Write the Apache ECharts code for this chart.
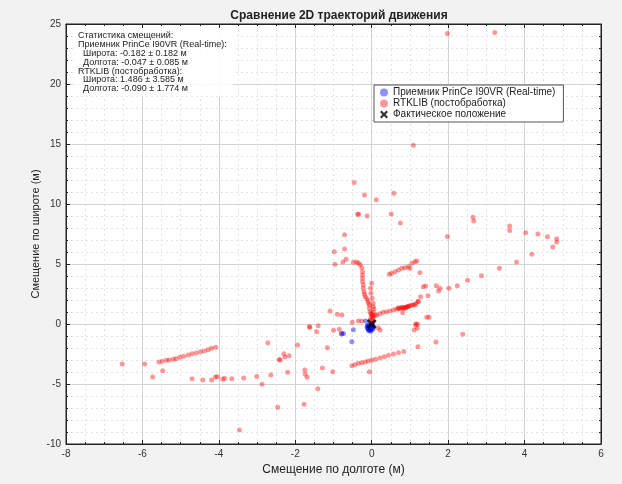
<!DOCTYPE html>
<html>
<head>
<meta charset="utf-8">
<script src="https://cdn.jsdelivr.net/npm/echarts@6/dist/echarts.min.js"></script>
<style>
  html, body { margin: 0; padding: 0; background: #f2f2f2; }
  #chart { width: 622px; height: 484px; }
</style>
</head>
<body>
<div id="chart"></div>
<script>
// Axis extents and tick spacing (metres)
const lonRange = [-8, 6];
const latRange = [-10, 25];
const lonTickStep = 2;
const latTickStep = 5;

// Receiver PrinCe I90VR real-time fixes: [lon offset, lat offset]
const receiverPoints = [
  [-0.79, -0.83], [-0.74, -0.80], [-0.48, -0.47], [-0.52, -1.47], [-0.16, 0.25],
  [-0.10, -0.10], [-0.08, -0.20], [-0.05, -0.30], [-0.03, -0.35], [-0.06, -0.42],
  [-0.02, -0.50], [0.00, -0.45], [0.02, -0.30], [-0.04, -0.25], [-0.07, -0.55],
  [-0.10, -0.38], [-0.12, -0.30], [0.03, -0.15], [0.00, -0.20], [-0.03, -0.60],
  [-0.09, -0.50], [0.04, -0.40], [-0.05, -0.10], [-0.11, -0.15], [0.01, -0.05]
];

// RTKLIB post-processed solution: scattered outliers
const rtkOutliers = [
  [1.98, 24.2], [3.22, 24.3], [1.09, 14.9],
  [-0.46, 11.8], [-0.19, 10.75], [0.12, 10.36], [0.58, 10.9],
  [-0.37, 9.14], [-0.34, 9.14], [-0.12, 9.0], [0.51, 9.17], [0.75, 8.42],
  [2.65, 8.89], [2.67, 8.58], [1.98, 7.3],
  [-0.71, 7.44], [-0.98, 6.03], [-0.71, 6.25], [-0.67, 5.4], [-0.75, 5.17], [-0.96, 4.97],
  [3.61, 8.17], [3.61, 7.8], [4.03, 7.61], [4.35, 7.5], [4.6, 7.28], [4.84, 7.11],
  [4.84, 6.83], [4.74, 6.42], [4.19, 5.81], [3.79, 5.17], [3.34, 4.64], [2.87, 4.03],
  [2.51, 3.64], [2.24, 3.19], [2.02, 2.97], [1.79, 2.97], [1.69, 3.19], [1.75, 2.75],
  [1.26, 4.28], [1.35, 3.11], [1.41, 3.17], [1.47, 2.36], [1.28, 2.28], [1.21, 1.89], [1.12, 1.58],
  [1.44, 0.56], [1.50, 0.56], [1.16, 0.02], [1.20, -0.02], [1.15, -0.08], [1.19, -0.36],
  [1.11, -0.5], [0.22, -0.5], [0.17, -0.31], [2.38, -0.86], [1.68, -1.5], [1.21, -1.9],
  [-1.09, 1.08], [-0.9, 0.81], [-0.78, 0.75], [-1.62, -0.28], [-1.4, -0.14], [-1.44, -0.64],
  [-1.0, -0.53], [-0.85, -0.44], [-0.79, -0.78], [-1.16, -1.97], [-1.63, -0.22],
  [-0.51, 0.14], [-0.35, 0.25], [-0.26, 0.25],
  [-0.06, -3.97], [-1.02, -3.97], [-1.29, -3.67], [-1.41, -5.39],
  [-1.75, -3.83], [-1.74, -4.19], [-1.69, -4.44], [-1.77, -6.69], [-1.94, -1.75],
  [-2.2, -4.02], [-2.3, -2.47], [-2.27, -2.75], [-2.16, -2.64], [-2.4, -3.0], [-2.42, -2.95],
  [-2.72, -1.57], [-2.64, -4.25], [-2.87, -5.03], [-3.01, -4.37], [-2.46, -6.94], [-3.46, -8.83],
  [-3.35, -4.5], [-3.66, -4.56], [-3.85, -4.53], [-3.9, -4.6], [-4.04, -4.4], [-4.09, -4.42],
  [-4.19, -4.67], [-4.42, -4.67], [-4.7, -4.56],
  [-6.53, -3.33], [-5.94, -3.33], [-5.73, -4.42], [-5.47, -3.89]
];

// RTKLIB: north-going track from the start point
const rtkNorthTrack = [
  [-0.48, 5.14], [-0.4, 5.17], [-0.35, 5.08], [-0.3, 4.93], [-0.26, 4.69], [-0.24, 4.36],
  [-0.24, 4.08], [-0.24, 3.81], [-0.24, 3.53], [-0.22, 3.25], [-0.22, 2.97], [-0.2, 2.69],
  [-0.19, 2.47], [-0.17, 2.28], [-0.13, 2.11], [-0.1, 1.92], [-0.08, 1.72], [-0.06, 1.58],
  [-0.06, 1.31], [-0.04, 1.03], [-0.02, 0.89],
  [0.0, 3.39], [-0.03, 2.97], [-0.02, 2.56], [0.01, 2.14], [0.04, 1.72], [0.04, 1.44],
  [0.06, 1.25], [0.04, 0.97], [0.0, 0.81], [0.04, 0.61], [0.03, 0.47], [0.0, 0.33],
  [0.09, 0.75], [-0.04, 0.33], [0.04, 0.19], [-0.02, 0.6], [0.02, 0.7]
];

// RTKLIB: north-east tracks
const rtkEastTrack = [
  [0.13, 0.75], [0.22, 0.86], [0.3, 0.97], [0.39, 1.03], [0.48, 1.08], [0.57, 1.17],
  [0.65, 1.25], [0.7, 1.28], [0.74, 1.31], [0.78, 1.34], [0.83, 1.36], [0.87, 1.4],
  [0.92, 1.42], [0.96, 1.47], [1.0, 1.53], [1.04, 1.56], [1.09, 1.6], [1.16, 1.69], [1.22, 1.86],
  [0.81, 0.94], [0.85, 1.3], [0.9, 1.38], [0.95, 1.45], [0.8, 1.4], [0.7, 1.35],
  [0.46, 4.14], [0.52, 4.22], [0.61, 4.36], [0.7, 4.5], [0.79, 4.64], [0.87, 4.69],
  [0.96, 4.78], [1.0, 4.64], [1.05, 5.06], [1.13, 5.19], [1.18, 5.25]
];

// RTKLIB: south-west tracks
const rtkSouthTrack = [
  [-0.52, -3.47], [-0.44, -3.39], [-0.35, -3.28], [-0.26, -3.22], [-0.17, -3.17], [-0.09, -3.08],
  [0.0, -3.03], [0.1, -2.94], [0.22, -2.84], [0.33, -2.72], [0.44, -2.6], [0.57, -2.5],
  [0.7, -2.4], [0.84, -2.3],
  [-5.57, -3.17], [-5.48, -3.11], [-5.37, -3.03], [-5.3, -3.0], [-5.19, -2.94], [-5.12, -2.89],
  [-5.02, -2.78], [-4.92, -2.69], [-4.8, -2.58], [-4.7, -2.47], [-4.59, -2.42], [-4.48, -2.31],
  [-4.38, -2.25], [-4.28, -2.14], [-4.19, -2.03], [-4.08, -1.94]
];

const truePosition = [[0, 0]];

const statsLines = [
  'Статистика смещений:',
  'Приемник PrinCe I90VR (Real-time):',
  '  Широта: -0.182 ± 0.182 м',
  '  Долгота: -0.047 ± 0.085 м',
  'RTKLIB (постобработка):',
  '  Широта: 1.486 ± 3.585 м',
  '  Долгота: -0.090 ± 1.774 м'
];

const seriesNames = [
  'Приемник PrinCe I90VR (Real-time)',
  'RTKLIB (постобработка)',
  'Фактическое положение'
];

const rtkPoints = rtkOutliers.concat(rtkNorthTrack, rtkEastTrack, rtkSouthTrack);

const FONT = 'Liberation Sans, Arial, sans-serif';
const crossPath = 'path://M2,0 L5,3 L8,0 L10,2 L7,5 L10,8 L8,10 L5,7 L2,10 L0,8 L3,5 L0,2 Z';

function valueAxis(extra) {
  return Object.assign({
    type: 'value',
    axisLine: { show: true, onZero: false, lineStyle: { color: '#222', width: 1 } },
    axisTick: { show: true, inside: true, length: 4, lineStyle: { color: '#222' } },
    axisLabel: { color: '#333', fontSize: 10, fontFamily: FONT, margin: 5 },
    splitLine: { show: true, lineStyle: { color: '#d4d4d4', width: 1 } },
    minorSplitLine: { show: true, lineStyle: { color: '#dcdcdc', type: [2, 3], width: 0.8 } }
  }, extra);
}

const chart = echarts.init(document.getElementById('chart'), null, { renderer: 'canvas' });

chart.setOption({
  backgroundColor: '#f2f2f2',
  animation: false,
  title: {
    text: 'Сравнение 2D траекторий движения',
    left: 334, top: 5, textAlign: 'center',
    textStyle: { fontSize: 12, fontWeight: 'bold', color: '#222', fontFamily: FONT }
  },
  grid: {
    left: 66, right: 21, top: 24, bottom: 40,
    show: true, backgroundColor: '#ffffff', borderColor: '#222', borderWidth: 1
  },
  xAxis: [
    valueAxis({
      min: lonRange[0], max: lonRange[1], interval: lonTickStep,
      minorTick: { show: true, splitNumber: 4, length: 2, lineStyle: { color: '#222' } },
      name: 'Смещение по долготе (м)', nameLocation: 'middle', nameGap: 16,
      nameTextStyle: { fontSize: 12, color: '#222', fontFamily: FONT }
    }),
    valueAxis({
      position: 'top', min: lonRange[0], max: lonRange[1], interval: lonTickStep,
      minorTick: { show: true, splitNumber: 4, length: 2, lineStyle: { color: '#222' } },
      axisLabel: { show: false }, splitLine: { show: false }, minorSplitLine: { show: false }
    })
  ],
  yAxis: [
    valueAxis({
      min: latRange[0], max: latRange[1], interval: latTickStep,
      minorTick: { show: true, splitNumber: 5, length: 2, lineStyle: { color: '#222' } },
      name: 'Смещение по широте (м)', nameLocation: 'middle', nameGap: 25, nameRotate: 90,
      nameMoveOverlap: false,
      nameTextStyle: { fontSize: 11, color: '#222', fontFamily: FONT }
    }),
    valueAxis({
      position: 'right', min: latRange[0], max: latRange[1], interval: latTickStep,
      minorTick: { show: true, splitNumber: 5, length: 2, lineStyle: { color: '#222' } },
      axisLabel: { show: false }, splitLine: { show: false }, minorSplitLine: { show: false }
    })
  ],
  legend: {
    orient: 'vertical', left: 374, top: 85,
    backgroundColor: '#ffffff', borderColor: '#555', borderWidth: 1, borderRadius: 0,
    padding: [2, 8, 2, 6], itemGap: 0, itemWidth: 8, itemHeight: 8,
    textStyle: { fontSize: 10, color: '#222', fontFamily: FONT, lineHeight: 11, padding: [0, 0, 0, 0] },
    data: [
      { name: seriesNames[0], icon: 'circle' },
      { name: seriesNames[1], icon: 'circle' },
      { name: seriesNames[2], icon: crossPath }
    ]
  },
  graphic: [{
    type: 'text', left: 73, top: 28, z: 100,
    style: {
      text: statsLines.join('\n'),
      font: '9px ' + FONT, fill: '#222', lineHeight: 8.9,
      backgroundColor: 'rgba(255,255,255,0.85)', padding: [3, 6, 3, 5]
    }
  }],
  series: [
    {
      name: seriesNames[1], type: 'scatter', data: rtkPoints, symbolSize: 5,
      itemStyle: { color: 'rgba(255,0,0,0.5)' }, z: 2
    },
    {
      name: seriesNames[0], type: 'scatter', data: receiverPoints, symbolSize: 5,
      itemStyle: { color: 'rgba(0,0,255,0.55)' }, z: 3
    },
    {
      name: seriesNames[2], type: 'scatter', data: truePosition, symbol: crossPath, symbolSize: 10,
      itemStyle: { color: '#000' }, z: 4
    }
  ]
});
</script>
</body>
</html>
